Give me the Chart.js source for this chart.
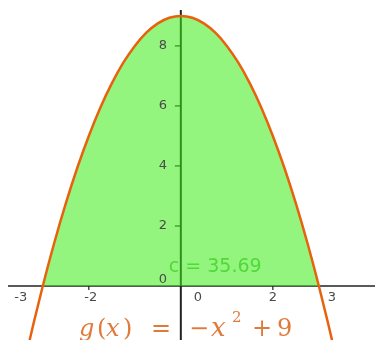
<!DOCTYPE html>
<html>
<head>
<meta charset="utf-8">
<script src="https://cdn.jsdelivr.net/npm/chart.js@4/dist/chart.umd.min.js"></script>
<style>
html,body{margin:0;padding:0;background:#fff;}
#wrap{width:375px;height:340px;}
</style>
</head>
<body>
<div id="wrap"><canvas id="c" width="375" height="340"></canvas></div>
<script>
// values: g(x) = -x^2 + 9
const curveX = [-3.4, -3.2, -3, -2.75, -2.5, -2.25, -2, -1.75, -1.5, -1.25, -1, -0.75, -0.5, -0.25, 0, 0.25, 0.5, 0.75, 1, 1.25, 1.5, 1.75, 2, 2.25, 2.5, 2.75, 3, 3.2, 3.4];
const curveY = [-2.56, -1.24, 0, 1.44, 2.75, 3.94, 5, 5.94, 6.75, 7.44, 8, 8.44, 8.75, 8.94, 9, 8.94, 8.75, 8.44, 8, 7.44, 6.75, 5.94, 5, 3.94, 2.75, 1.44, 0, -1.24, -2.56];
const xTickLabels = ['-3', '-2', '0', '2', '3'];
const xTickValues = [-3, -2, 0, 2, 3];
const yTickLabels = ['0', '2', '4', '6', '8'];
const yTickValues = [0, 2, 4, 6, 8];
const areaLabel = 'c = 35.69';
const fillFrom = -3, fillTo = 3;

const curvePts = curveX.map((x, i) => ({x: x, y: curveY[i]}));
const fillPts = curvePts.filter(p => p.x >= fillFrom && p.x <= fillTo);

const axesPlugin = {
  id: 'axes',
  beforeDatasetsDraw(chart) {
    const {ctx, scales: {x, y}} = chart;
    const x0 = x.getPixelForValue(0), y0 = y.getPixelForValue(0);
    ctx.save();
    ctx.strokeStyle = '#222';
    ctx.lineWidth = 1.5;
    ctx.beginPath();
    ctx.moveTo(8, y0); ctx.lineTo(375, y0);
    ctx.stroke();
    ctx.lineWidth = 2;
    ctx.beginPath();
    ctx.moveTo(x0, 10); ctx.lineTo(x0, 340);
    ctx.stroke();
    ctx.lineWidth = 1.2;
    yTickValues.forEach(v => {
      if (v === 0) return;
      const py = y.getPixelForValue(v);
      ctx.beginPath(); ctx.moveTo(x0 - 6, py); ctx.lineTo(x0, py); ctx.stroke();
    });
    [-2, 2].forEach(v => {
      const px = x.getPixelForValue(v);
      ctx.beginPath(); ctx.moveTo(px, y0); ctx.lineTo(px, y0 + 4); ctx.stroke();
    });
    ctx.restore();
  },
  afterDatasetsDraw(chart) {
    const {ctx, scales: {x, y}} = chart;
    const x0 = x.getPixelForValue(0), y0 = y.getPixelForValue(0);
    ctx.save();
    ctx.fillStyle = '#4a4a4a';
    ctx.font = '13px "DejaVu Sans", sans-serif';
    ctx.textAlign = 'center';
    ctx.textBaseline = 'middle';
    const xOff = {'-3': -22, '-2': 2, '0': 17, '2': 0, '3': 13};
    xTickLabels.forEach((t, i) => {
      ctx.fillText(t, x.getPixelForValue(xTickValues[i]) + xOff[t], y0 + 12);
    });
    yTickLabels.forEach((t, i) => {
      const py = y.getPixelForValue(yTickValues[i]) + (yTickValues[i] === 0 ? -6 : 0);
      ctx.fillText(t, x0 - 18, py);
    });
    // area label
    ctx.fillStyle = '#4fd93a';
    ctx.font = '19px "DejaVu Sans", sans-serif';
    ctx.textAlign = 'left';
    ctx.textBaseline = 'alphabetic';
    ctx.fillText(areaLabel, x0 - 12, y0 - 14);
    // formula
    ctx.fillStyle = '#df7a3a';
    const it = 'italic 24px "DejaVu Serif", "Liberation Serif", serif';
    const rm = '24px "DejaVu Serif", "Liberation Serif", serif';
    const bl = 336;
    ctx.font = it; ctx.fillText('g', 79, bl);
    ctx.font = rm; ctx.fillText('(', 97, bl);
    ctx.font = it; ctx.fillText('x', 106, bl);
    ctx.font = rm; ctx.fillText(')', 123, bl);
    ctx.fillText('=', 151, bl);
    ctx.fillText('\u2212', 189, bl);
    ctx.font = 'italic 26px "DejaVu Serif", "Liberation Serif", serif';
    ctx.fillText('x', 211, bl);
    ctx.font = '15px "DejaVu Serif", "Liberation Serif", serif';
    ctx.fillText('2', 232, 322);
    ctx.font = rm;
    ctx.fillText('+', 252, bl);
    ctx.fillText('9', 277, bl);
    ctx.restore();
  }
};

new Chart(document.getElementById('c'), {
  type: 'scatter',
  data: {
    datasets: [
      {
        data: fillPts,
        showLine: true,
        borderWidth: 0,
        borderColor: 'rgba(0,0,0,0)',
        backgroundColor: 'rgba(60,236,20,0.55)',
        fill: 'origin',
        pointRadius: 0,
        cubicInterpolationMode: 'monotone',
        order: 2
      },
      {
        data: curvePts,
        showLine: true,
        borderWidth: 2.5,
        borderColor: '#e8620e',
        fill: false,
        pointRadius: 0,
        cubicInterpolationMode: 'monotone',
        order: 1
      }
    ]
  },
  options: {
    responsive: false,
    animation: false,
    devicePixelRatio: 1,
    layout: {padding: 0},
    plugins: {legend: {display: false}, tooltip: {enabled: false}},
    scales: {
      x: {type: 'linear', min: -3.93, max: 4.22, display: false},
      y: {type: 'linear', min: -1.8, max: 9.53, display: false}
    }
  },
  plugins: [axesPlugin]
});
</script>
</body>
</html>
